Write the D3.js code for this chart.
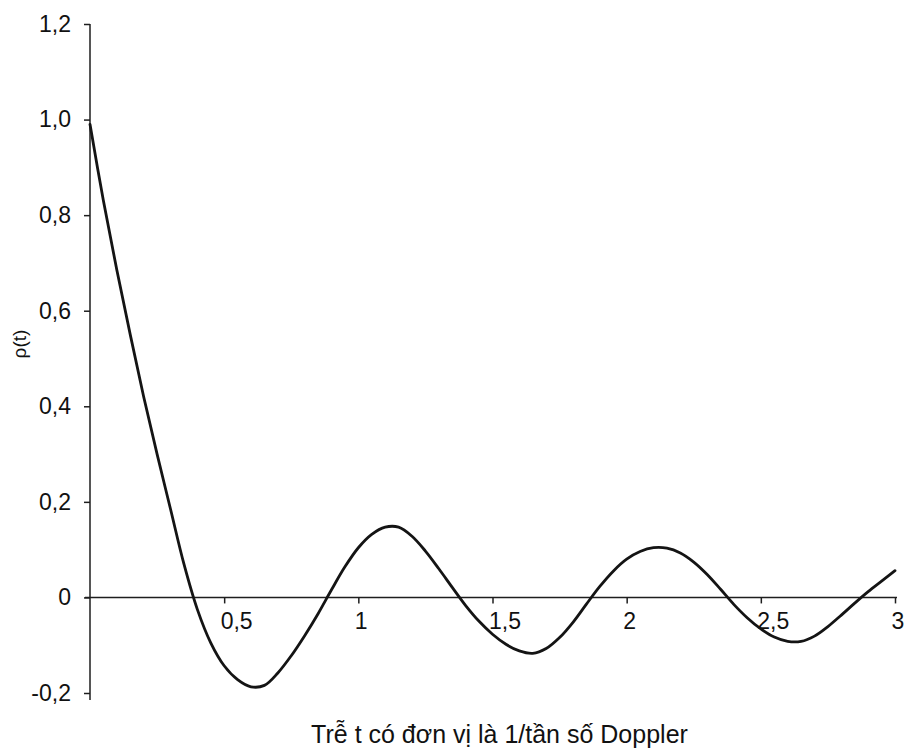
<!DOCTYPE html>
<html>
<head>
<meta charset="utf-8">
<script src="https://cdn.jsdelivr.net/npm/d3@7"></script>
<style>
  html, body { margin: 0; padding: 0; background: #fff; }
  svg { display: block; }
  text { font-family: "Liberation Sans", Arial, sans-serif; fill: #111; }
</style>
</head>
<body>
<svg id="chart" width="906" height="749"></svg>
<script>
// Lag t (units of 1/Doppler frequency)
const lagT = [0, 0.05, 0.10, 0.15, 0.20, 0.25, 0.30, 0.35, 0.40, 0.45, 0.50, 0.55, 0.60, 0.65,
  0.70, 0.75, 0.80, 0.85, 0.90, 0.95, 1.00, 1.05, 1.10, 1.15, 1.20, 1.25, 1.30, 1.35, 1.40, 1.45,
  1.50, 1.55, 1.60, 1.65, 1.70, 1.75, 1.80, 1.85, 1.90, 1.95, 2.00, 2.05, 2.10, 2.15, 2.20, 2.25,
  2.30, 2.35, 2.40, 2.45, 2.50, 2.55, 2.60, 2.65, 2.70, 2.75, 2.80, 2.85, 2.90, 2.95, 3.00];
// rho(t) values
const rhoValues = [0.99, 0.83, 0.685, 0.55, 0.42, 0.30, 0.185, 0.070, -0.025, -0.095, -0.143, -0.172,
  -0.187, -0.184, -0.158, -0.122, -0.080, -0.034, 0.016, 0.064, 0.104, 0.132, 0.147, 0.147, 0.128,
  0.097, 0.060, 0.021, -0.017, -0.050, -0.077, -0.098, -0.112, -0.117, -0.107, -0.084, -0.052,
  -0.014, 0.023, 0.055, 0.080, 0.096, 0.104, 0.103, 0.093, 0.074, 0.048, 0.017, -0.015, -0.043,
  -0.066, -0.083, -0.092, -0.092, -0.081, -0.061, -0.037, -0.012, 0.012, 0.034, 0.056];
const xTicks = [0.5, 1, 1.5, 2, 2.5, 3];
const xTickLabels = ["0,5", "1", "1,5", "2", "2,5", "3"];
const yTicks = [-0.2, 0, 0.2, 0.4, 0.6, 0.8, 1.0, 1.2];
const yTickLabels = ["-0,2", "0", "0,2", "0,4", "0,6", "0,8", "1,0", "1,2"];
const xTitle = "Trễ t có đơn vị là 1/tần số Doppler";
const yTitle = "ρ(t)";

const svg = d3.select("#chart");
const x = d3.scaleLinear().domain([0, 3]).range([90, 895]);
const y = d3.scaleLinear().domain([-0.2, 1.2]).range([693, 24]);
const axisColor = "#1e1e1e";

// Y axis (vertical line at x=0, ticks to the left)
const yAxis = d3.axisLeft(y)
  .tickValues(yTicks)
  .tickFormat((d, i) => yTickLabels[i])
  .tickSize(6)
  .tickPadding(13);
const gy = svg.append("g").attr("transform", `translate(${x(0)},0)`).call(yAxis);
gy.select(".domain").attr("d", `M0,${y(1.2)}V${y(-0.2) + 7}`).attr("stroke", axisColor).attr("stroke-width", 1.5);
gy.selectAll(".tick line").attr("stroke", axisColor).attr("stroke-width", 1.5);
gy.selectAll(".tick text").attr("font-size", 23).attr("fill", "#111")
  .attr("font-family", "'Liberation Sans', Arial, sans-serif");

// X axis at y=0, ticks downward
const xAxis = d3.axisBottom(x)
  .tickValues(xTicks)
  .tickFormat((d, i) => xTickLabels[i])
  .tickSize(6)
  .tickPadding(9);
const gx = svg.append("g").attr("transform", `translate(0,${y(0)})`).call(xAxis);
gx.select(".domain").attr("d", `M${x(0) - 5},0H${x(3) + 2}`).attr("stroke", axisColor).attr("stroke-width", 1.5);
gx.selectAll(".tick line").attr("stroke", axisColor).attr("stroke-width", 1.5);
gx.selectAll(".tick text").attr("font-size", 23).attr("fill", "#111")
  .attr("font-family", "'Liberation Sans', Arial, sans-serif")
  .attr("text-anchor", "start").attr("dx", -4);

// Curve
const pts = lagT.map((t, i) => [t, rhoValues[i]]);
const line = d3.line().x(d => x(d[0])).y(d => y(d[1])).curve(d3.curveCatmullRom.alpha(0.5));
svg.append("path").datum(pts)
  .attr("d", line)
  .attr("fill", "none")
  .attr("stroke", "#141414")
  .attr("stroke-width", 2.8)
  .attr("stroke-linejoin", "round")
  .attr("stroke-linecap", "round");

// Titles
svg.append("text").attr("x", 499.5).attr("y", 743)
  .attr("text-anchor", "middle").attr("font-size", 25).text(xTitle);
svg.append("text").attr("transform", "translate(26,344) rotate(-90)")
  .attr("text-anchor", "middle").attr("font-size", 19).text(yTitle);
</script>
</body>
</html>
